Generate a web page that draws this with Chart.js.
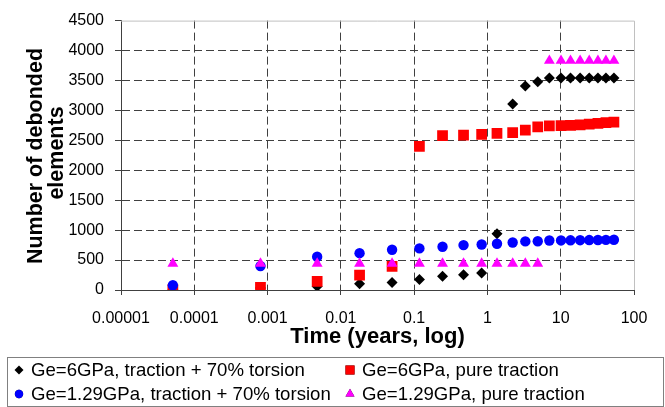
<!DOCTYPE html>
<html>
    <head>
        <title>Debonded elements</title>
        <meta charset="UTF-8">
        <style>
            body { margin: 0; background: white; }
            #chart-holder { width: 665px; height: 407px; }
        </style>
    </head>
    <body>
        <div id="chart-holder">
            <canvas id="grafica-debond" width="665" height="407"></canvas>
        </div>

        <script src="https://cdn.jsdelivr.net/npm/chart.js@4/dist/chart.umd.min.js"></script>
        <script>
            // time (years) of every output step
            var times = [0.000051, 0.0008, 0.00475, 0.018, 0.05, 0.118, 0.244, 0.472, 0.834, 1.35, 2.21, 3.29, 4.86,
                         7.0, 10.1, 13.6, 18.4, 24.5, 32.2, 41.4, 53.2];
            var ge6Torsion   = [0, 35, 60, 103, 125, 175, 228, 256, 283, 940, 3108, 3407, 3477,
                                3540, 3540, 3540, 3540, 3540, 3540, 3540, 3540];
            var ge6Traction  = [5, 45, 145, 250, 396, 2400, 2580, 2585, 2600, 2615, 2630, 2670, 2725,
                                2740, 2745, 2750, 2760, 2770, 2785, 2795, 2805];
            var ge129Torsion = [80, 400, 555, 615, 672, 695, 722, 750, 760, 772, 793, 812, 815,
                                826, 828, 830, 832, 834, 836, 838, 840];
            var ge129Traction = [440, 440, 440, 440, 440, 440, 440, 440, 440, 440, 440, 440, 440,
                                 3830, 3830, 3830, 3830, 3830, 3830, 3830, 3830];
            var seriesNames = ["Ge=6GPa, traction + 70% torsion", "Ge=6GPa, pure traction",
                               "Ge=1.29GPa, traction + 70% torsion", "Ge=1.29GPa, pure traction"];
            var xTicks = [0.00001, 0.0001, 0.001, 0.01, 0.1, 1, 10, 100];
            var xTickLabels = ["0.00001", "0.0001", "0.001", "0.01", "0.1", "1", "10", "100"];
            var yTicks = [0, 500, 1000, 1500, 2000, 2500, 3000, 3500, 4000, 4500];
            var yTitleLines = ["Number of debonded", "elements"];

            Chart.defaults.font.family = "'Liberation Sans', Arial, sans-serif";
            Chart.defaults.color = "#000";

            function toPoints(vals) {
                return times.map(function (t, i) { return {x: t, y: vals[i]}; });
            }

            var gridColor = "#404040";
            var frameColor = "#c0c0c0";

            // plot frame (top / right), y title and the legend box
            Chart.register({
                id: "frameAndLegend",
                afterDatasetsDraw: function (c) {
                    var ctx = c.ctx, a = c.chartArea;
                    ctx.save();
                    ctx.strokeStyle = frameColor;
                    ctx.lineWidth = 1;
                    ctx.beginPath();
                    ctx.moveTo(a.left, a.top + 0.5);
                    ctx.lineTo(a.right + 0.5, a.top + 0.5);
                    ctx.lineTo(a.right + 0.5, a.bottom);
                    ctx.stroke();
                    ctx.restore();
                },
                afterDraw: function (c) {
                    var ctx = c.ctx;
                    ctx.save();
                    // y axis title, two lines like the excel one
                    ctx.font = "bold 21.5px 'Liberation Sans', Arial";
                    ctx.fillStyle = "#000";
                    ctx.textAlign = "center";
                    ctx.textBaseline = "middle";
                    var tpos = [[36, 156], [57.5, 153]];
                    yTitleLines.forEach(function (t, i) {
                        ctx.save();
                        ctx.translate(tpos[i][0], tpos[i][1]);
                        ctx.rotate(-Math.PI / 2);
                        ctx.fillText(t, 0, 0);
                        ctx.restore();
                    });
                    ctx.textAlign = "left";

                    ctx.fillStyle = "white";
                    ctx.fillRect(7.5, 357.5, 656, 49);
                    ctx.strokeStyle = "#808080";
                    ctx.lineWidth = 1;
                    ctx.strokeRect(7.5, 357.5, 656, 49);
                    var pos = [[19, 370], [350, 370], [19, 394], [350, 394]];
                    ctx.font = "18.6px 'Liberation Sans', Arial";
                    c.data.datasets.forEach(function (ds, i) {
                        var px = pos[i][0], py = pos[i][1];
                        Chart.helpers.drawPoint(ctx, {
                            pointStyle: ds.pointStyle,
                            radius: ds.legendRadius,
                            borderWidth: 0
                        }, px, py);
                        ctx.fillStyle = ds.backgroundColor;
                        ctx.fill();
                        ctx.fillStyle = "#000";
                        ctx.fillText(ds.label, px + 12, py + 1);
                    });
                    ctx.restore();
                }
            });

            var chartCtx = document.getElementById("grafica-debond").getContext("2d");
            var chart = new Chart(chartCtx, {
                type: "scatter",
                data: {
                    datasets: [{
                            label: seriesNames[0],
                            data: toPoints(ge6Torsion),
                            pointStyle: "rectRot",
                            backgroundColor: "#000000",
                            borderColor: "#000000",
                            pointRadius: 5.5,
                            legendRadius: 4.5,
                            order: 3
                        }, {
                            label: seriesNames[1],
                            data: toPoints(ge6Traction),
                            pointStyle: "rect",
                            backgroundColor: "#ff0000",
                            borderColor: "#ff0000",
                            pointRadius: 7.6,
                            legendRadius: 6.4,
                            order: 2
                        }, {
                            label: seriesNames[2],
                            data: toPoints(ge129Torsion),
                            pointStyle: "circle",
                            backgroundColor: "#0000ff",
                            borderColor: "#0000ff",
                            pointRadius: 5.2,
                            legendRadius: 4.2,
                            order: 1
                        }, {
                            label: seriesNames[3],
                            data: toPoints(ge129Traction),
                            pointStyle: "triangle",
                            backgroundColor: "#ff00ff",
                            borderColor: "#ff00ff",
                            pointRadius: 6.3,
                            legendRadius: 5.2,
                            order: 0
                        }]
                },
                options: {
                    responsive: false,
                    animation: false,
                    layout: {padding: {top: 14, right: 31, bottom: 50, left: 0}},
                    elements: {point: {borderWidth: 0, hoverRadius: 6}},
                    plugins: {
                        legend: {display: false},
                        tooltip: {enabled: false}
                    },
                    scales: {
                        x: {
                            type: "logarithmic",
                            min: 0.00001,
                            max: 100,
                            afterFit: function (s) { s.height = 67; },
                            afterBuildTicks: function (s) {
                                s.ticks = xTicks.map(function (v) { return {value: v}; });
                            },
                            ticks: {
                                autoSkip: false,
                                maxRotation: 0,
                                padding: 14,
                                font: {size: 16},
                                callback: function (v, i) { return xTickLabels[i]; }
                            },
                            grid: {
                                color: function (ctx) {
                                    return ctx.tick && ctx.tick.value === 100 ? "rgba(0,0,0,0)" : gridColor;
                                },
                                tickColor: "#404040",
                                tickLength: 5,
                                tickBorderDash: []
                            },
                            border: {display: true, color: "#404040", width: 1, dash: [8, 4]},
                            title: {
                                display: true,
                                text: "Time (years, log)",
                                font: {size: 22, weight: "bold", lineHeight: 1.1},
                                padding: {top: 0, bottom: 8}
                            }
                        },
                        y: {
                            min: 0,
                            max: 4500,
                            afterFit: function (s) { s.width = 121; },
                            afterBuildTicks: function (s) {
                                s.ticks = yTicks.map(function (v) { return {value: v}; });
                            },
                            ticks: {
                                padding: 11,
                                font: {size: 16},
                                callback: function (v) { return String(v); }
                            },
                            grid: {
                                color: function (ctx) {
                                    return ctx.tick && ctx.tick.value === 4500 ? "rgba(0,0,0,0)" : gridColor;
                                },
                                tickColor: "#404040",
                                tickLength: 6,
                                tickBorderDash: []
                            },
                            border: {display: true, color: "#404040", width: 1, dash: [8, 4]}
                        }
                    }
                }
            });
        </script>
    </body>
</html>
